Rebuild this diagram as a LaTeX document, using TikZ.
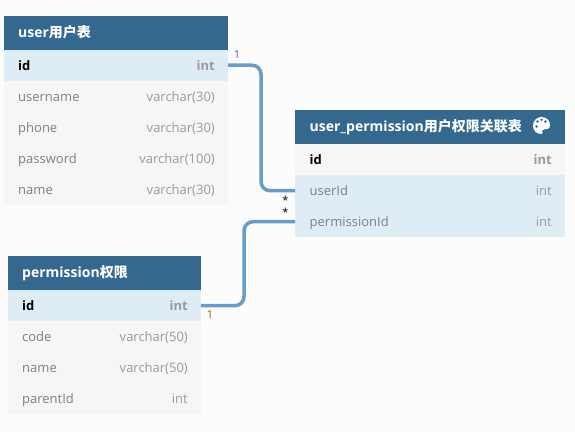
\documentclass[tikz,border=0pt]{standalone}
\usepackage{fontspec}
\setmainfont{Open Sans}
\newfontfamily\cjk{Noto Sans CJK SC}
\definecolor{pagebg}{HTML}{FCFCFC}
\definecolor{headblue}{HTML}{34688F}
\definecolor{rowblue}{HTML}{DEEDF5}
\definecolor{rowgrey}{HTML}{F6F6F6}
\definecolor{relblue}{HTML}{659ECB}
\definecolor{namegrey}{HTML}{7F7F7F}
\definecolor{typegrey}{HTML}{9A9A9A}
\tikzset{
  headbox/.style={fill=headblue,draw=none,inner sep=0pt,anchor=north west,minimum height=34pt},
  bluerow/.style={fill=rowblue,draw=none,inner sep=0pt,anchor=north west,minimum height=31pt},
  greyrow/.style={fill=rowgrey,draw=none,inner sep=0pt,anchor=north west,minimum height=31pt},
  headtext/.style={anchor=base west,inner sep=0pt,text=white,font=\fontsize{14}{16}\selectfont\bfseries},
  fieldname/.style={anchor=base west,inner sep=0pt,text=namegrey,font=\fontsize{13}{15}\selectfont},
  fieldtype/.style={anchor=base east,inner sep=0pt,text=typegrey,font=\fontsize{13}{15}\selectfont},
  keyname/.style={fieldname,text=black,font=\fontsize{13}{15}\selectfont\bfseries},
  keytype/.style={fieldtype,font=\fontsize{13}{15}\selectfont\bfseries},
  relline/.style={draw=relblue,line width=3.5pt,rounded corners=9pt},
  relend/.style={inner sep=0pt,font=\fontsize{11}{13}\selectfont},
}
\begin{document}
\begin{tikzpicture}[x=1pt,y=-1pt]
\fill[pagebg] (0,0) rectangle (575,432);
\useasboundingbox (0,0) rectangle (575,432);

% user
\node[headbox,minimum width=224pt] (userhead) at (3.5,15.5) {};
\node[bluerow,minimum width=224pt] (userid) at (3.5,49.5) {};
\node[greyrow,minimum width=224pt] (userusername) at (3.5,80.5) {};
\node[greyrow,minimum width=224pt] (userphone) at (3.5,111.5) {};
\node[greyrow,minimum width=224pt] (userpassword) at (3.5,142.5) {};
\node[greyrow,minimum width=224pt] (username) at (3.5,173.5) {};
\node[headtext] (userheadtext) at (18,37) {user{\cjk 用户表}};
\node[keyname] at (18,70) {id};
\node[keytype] at (215,70) {int};
\node[fieldname] at (18,101) {username};
\node[fieldtype] at (215,101) {varchar(30)};
\node[fieldname] at (18,132) {phone};
\node[fieldtype] at (215,132) {varchar(30)};
\node[fieldname] at (18,163) {password};
\node[fieldtype] at (215,163) {varchar(100)};
\node[fieldname] at (18,194) {name};
\node[fieldtype] at (215,194) {varchar(30)};

% user_permission
\node[headbox,minimum width=270pt] (linkhead) at (295,110) {};
\node[greyrow,minimum width=270pt] (linkid) at (295,144) {};
\node[bluerow,minimum width=270pt] (linkuserid) at (295,175) {};
\node[bluerow,minimum width=270pt] (linkpermid) at (295,206) {};
\node[headtext] (linkheadtext) at (309.5,131.5) {user\_permission{\cjk 用户权限关联表}};
\node[keyname] at (309.5,164.5) {id};
\node[keytype] at (552,164.5) {int};
\node[fieldname] at (309.5,195.5) {userId};
\node[fieldtype] at (552,195.5) {int};
\node[fieldname] at (309.5,226.5) {permissionId};
\node[fieldtype] at (552,226.5) {int};

% palette
\fill[white] (541.5,117) .. controls (547,117) and (550,121) .. (550,125)
  .. controls (550,129) and (547,129.5) .. (544,129.5)
  .. controls (541.5,129.5) and (542,131) .. (542.5,132)
  .. controls (543,133.5) and (542,134) .. (541,134)
  .. controls (536,134) and (533,130) .. (533,125.5)
  .. controls (533,121) and (536.5,117) .. (541.5,117) -- cycle;
\fill[headblue] (536.5,126.5) circle (1.3);
\fill[headblue] (537.5,121.5) circle (1.3);
\fill[headblue] (541.5,119.8) circle (1.3);
\fill[headblue] (545.5,121.5) circle (1.3);

% permission
\node[headbox,minimum width=192.5pt] (permhead) at (8,256) {};
\node[bluerow,minimum width=192.5pt] (permid) at (8,290) {};
\node[greyrow,minimum width=192.5pt] (permcode) at (8,321) {};
\node[greyrow,minimum width=192.5pt] (permname) at (8,352) {};
\node[greyrow,minimum width=192.5pt] (permparent) at (8,383) {};
\node[headtext] (permheadtext) at (22,277.5) {permission{\cjk 权限}};
\node[keyname] at (22,310.5) {id};
\node[keytype] at (188,310.5) {int};
\node[fieldname] at (22,341.5) {code};
\node[fieldtype] at (188,341.5) {varchar(50)};
\node[fieldname] at (22,372.5) {name};
\node[fieldtype] at (188,372.5) {varchar(50)};
\node[fieldname] at (22,403.5) {parentId};
\node[fieldtype] at (188,403.5) {int};

% relations
\coordinate (userbend) at (261,120);
\coordinate (permbend) at (244,260);
\draw[relline] (userid.east) -| (userbend) |- (linkuserid.west);
\draw[relline] (permid.east) -| (permbend) |- (linkpermid.west);

\node[relend,text=relblue!60!blue] (userone) at (237,55) {1};
\node[relend,text=black] (usermany) at (285.5,200) {*};
\node[relend,text=black] (permmany) at (285.5,212) {*};
\node[relend,text=orange!70!black] (permone) at (210,315) {1};
\end{tikzpicture}
\end{document}
